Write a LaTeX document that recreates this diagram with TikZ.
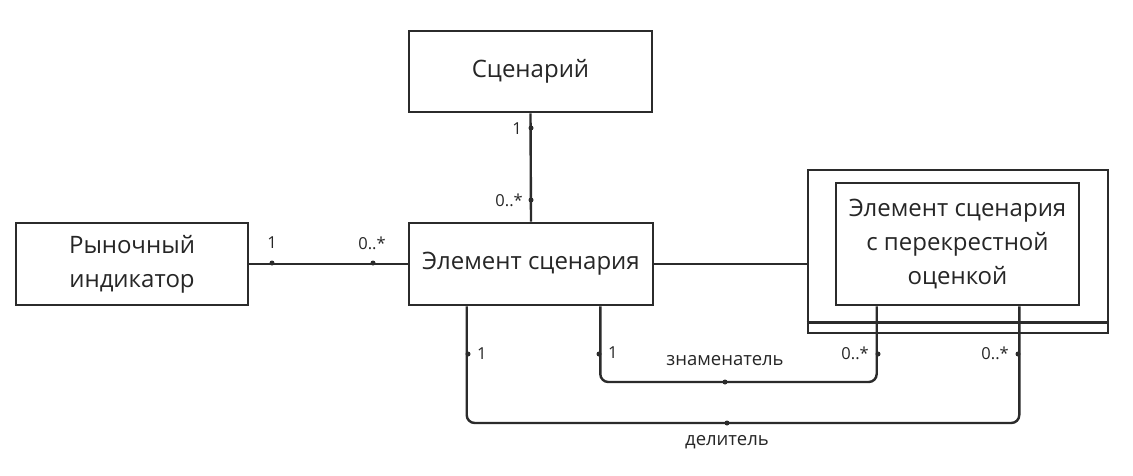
\documentclass[tikz,border=0pt]{standalone}
\usepackage{fontspec}
\setmainfont{Open Sans}
\usetikzlibrary{calc}
\definecolor{ink}{HTML}{2B2B2B}
\definecolor{txt}{HTML}{262626}
\begin{document}
\begin{tikzpicture}[x=1pt,y=-1pt,
  box/.style={draw=ink, line width=2.6pt, fill=white, inner sep=0pt, align=center, font=\fontsize{24}{34}\selectfont, text=txt},
  conn/.style={draw=ink, line width=2.4pt},
  mult/.style={font=\fontsize{16.5}{18}\selectfont, text=txt, inner sep=0pt},
  role/.style={font=\fontsize{18.5}{20}\selectfont, text=txt, inner sep=0pt},
  dot/.style={circle, fill=ink, inner sep=0pt, minimum size=5pt}]
\useasboundingbox (0,0) rectangle (1133,475);
\fill[white] (0,0) rectangle (1133,475);
% boxes
\node[box, minimum width=243pt, minimum height=81pt] (scen) at (530.5,71.5) {Сценарий};
\node[box, minimum width=244pt, minimum height=82pt] (elem) at (531,264) {Элемент сценария};
\node[box, minimum width=232pt, minimum height=82pt] (ind) at (132,264) {Рыночный\\индикатор};
\node[box, minimum width=300pt, minimum height=163pt] (outer) at (958,251.5) {};
\node[box, minimum width=243pt, minimum height=122pt] (inner) at (957.5,244) {Элемент сценария\\с перекрестной\\оценкой};
\draw[conn, line width=2.6pt] ([yshift=12pt]outer.south west) -- ([yshift=12pt]outer.south east);
% connectors
\coordinate (dmid) at (727,423);
\coordinate (zmid) at (725,382);
\draw[conn] (scen.south) -- (elem.north);
\draw[conn] (ind.east) -- (elem.west);
\draw[conn] (elem.east) -- (elem.east -| outer.west);
\draw[conn, rounded corners=8pt] ([xshift=59pt]elem.south west) |- (dmid) -| ([xshift=-61pt]inner.south east);
\draw[conn, rounded corners=8pt] ([xshift=-54pt]elem.south east) |- (zmid) -| ([xshift=42pt]inner.south west);
% dots
\node[dot] (d1) at (531,128) {};
\node[dot] (d2) at (531,200) {};
\node[dot] (d3) at (272,263) {};
\node[dot] (d4) at (373,263) {};
\node[dot] (d5) at (468,354) {};
\node[dot] (d6) at (599,354) {};
\node[dot] (d7) at (878,354) {};
\node[dot] (d8) at (1018,354) {};
\node[dot] (d9) at (dmid) {};
\node[dot] (d10) at (zmid) {};
% multiplicities
\node[mult, anchor=east] (m1) at (522,129) {1};
\node[mult, anchor=east] (m2) at (523,200) {0..*};
\node[mult] (m3) at (272,243) {1};
\node[mult] (m4) at (372,243) {0..*};
\node[mult, anchor=west] (m5) at (477,354) {1};
\node[mult, anchor=west] (m6) at (608,353) {1};
\node[mult, anchor=east] (m7) at (869,353) {0..*};
\node[mult, anchor=east] (m8) at (1009,353) {0..*};
% roles
\node[role] (r1) at (725,361) {знаменатель};
\node[role] (r2) at (727,442) {делитель};
\end{tikzpicture}
\end{document}
